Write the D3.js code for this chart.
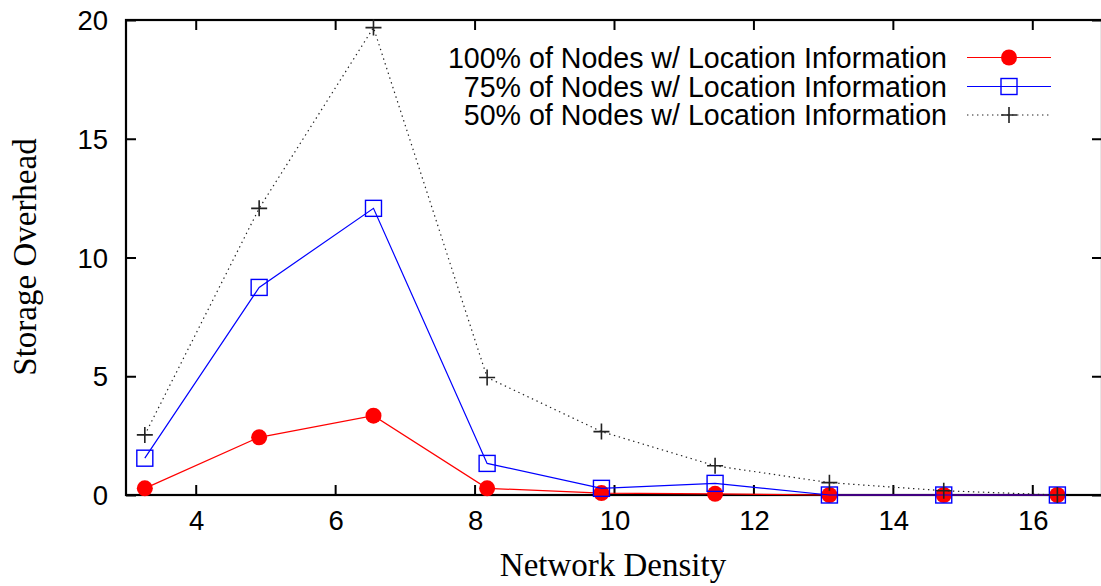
<!DOCTYPE html>
<html>
<head>
<meta charset="utf-8">
<script src="https://cdn.jsdelivr.net/npm/d3@7"></script>
<style>
  html, body { margin: 0; padding: 0; background: #fff; }
  svg { display: block; }
</style>
</head>
<body>
<svg id="chart" width="1101" height="586"></svg>
<script>
// Network density values on the x axis
const density = [3.27, 4.91, 6.55, 8.18, 9.82, 11.45, 13.09, 14.73, 16.36];

// Storage overhead for each share of nodes that know their location
const overhead100 = [0.28, 2.43, 3.34, 0.28, 0.08, 0.05, 0.0, 0.0, 0.0];
const overhead75  = [1.55, 8.74, 12.07, 1.33, 0.28, 0.49, 0.0, 0.0, 0.0];
const overhead50  = [2.53, 12.07, 19.68, 4.95, 2.67, 1.23, 0.52, 0.18, 0.0];

const seriesNames = [
  "100% of Nodes w/ Location Information",
  "75% of Nodes w/ Location Information",
  "50% of Nodes w/ Location Information"
];

const xTicks = [4, 6, 8, 10, 12, 14, 16];
const yTicks = [0, 5, 10, 15, 20];

const svg = d3.select("#chart");
const plotLeft = 126, plotRight = 1102, plotTop = 20, plotBottom = 495;

const x = d3.scaleLinear().domain([3, 17]).range([plotLeft, plotRight]);
const y = d3.scaleLinear().domain([0, 20]).range([plotBottom, plotTop]);

const sans = "'Liberation Sans', Arial, Helvetica, sans-serif";
const serif = "'Liberation Serif', 'Times New Roman', serif";

const series = [
  { name: seriesNames[0], values: overhead100, color: "#ff0000", marker: "circle", dash: null },
  { name: seriesNames[1], values: overhead75,  color: "#0000ff", marker: "square", dash: null },
  { name: seriesNames[2], values: overhead50,  color: "#222222", marker: "plus",   dash: "1.4,3.6" }
];

// Tick marks on all four sides, pointing inward
const tickLen = 10;
const axisG = svg.append("g");
const xAxisB = d3.axisBottom(x).tickValues(xTicks).tickSize(-tickLen).tickFormat("");
const xAxisT = d3.axisTop(x).tickValues(xTicks).tickSize(-tickLen).tickFormat("");
const yAxisL = d3.axisLeft(y).tickValues(yTicks).tickSize(-tickLen).tickFormat("");
const yAxisR = d3.axisRight(y).tickValues(yTicks).tickSize(-tickLen).tickFormat("");
[[xAxisB, `translate(0,${plotBottom})`], [xAxisT, `translate(0,${plotTop})`],
 [yAxisL, `translate(${plotLeft},0)`], [yAxisR, `translate(${plotRight},0)`]].forEach(([ax, tr]) => {
  const g = axisG.append("g").attr("transform", tr).call(ax);
  g.select(".domain").remove();
  g.selectAll(".tick line").attr("stroke", "#000").attr("stroke-width", 2);
});

// Tick labels
svg.append("g").selectAll("text").data(xTicks).join("text")
  .attr("x", d => x(d) + 1).attr("y", 530)
  .attr("text-anchor", "middle")
  .style("font-family", sans).style("font-size", "27.5px").attr("fill", "#000")
  .text(d => d);
svg.append("g").selectAll("text").data(yTicks).join("text")
  .attr("x", 108).attr("y", d => y(d) + 10)
  .attr("text-anchor", "end")
  .style("font-family", sans).style("font-size", "27.5px").attr("fill", "#000")
  .text(d => d);

// Plot border
svg.append("rect")
  .attr("x", plotLeft).attr("y", plotTop)
  .attr("width", plotRight - plotLeft).attr("height", plotBottom - plotTop)
  .attr("fill", "none").attr("stroke", "#000").attr("stroke-width", 2.2);

// Axis titles
svg.append("text")
  .attr("x", 613).attr("y", 576)
  .attr("text-anchor", "middle")
  .style("font-family", serif).style("font-size", "33px").attr("fill", "#000")
  .text("Network Density");
svg.append("text")
  .attr("transform", "translate(36,257) rotate(-90)")
  .attr("text-anchor", "middle")
  .style("font-family", serif).style("font-size", "33px").attr("fill", "#000")
  .text("Storage Overhead");

function drawMarker(g, type, cx, cy, color) {
  if (type === "circle") {
    g.append("circle").attr("cx", cx).attr("cy", cy).attr("r", 8).attr("fill", color);
  } else if (type === "square") {
    g.append("rect").attr("x", cx - 8).attr("y", cy - 8).attr("width", 16).attr("height", 16)
      .attr("fill", "none").attr("stroke", color).attr("stroke-width", 1.4);
  } else {
    g.append("path").attr("d", `M${cx - 8},${cy}H${cx + 8}M${cx},${cy - 8}V${cy + 8}`)
      .attr("stroke", color).attr("stroke-width", 1.6).attr("fill", "none");
  }
}

const line = d3.line().x(d => x(d[0])).y(d => y(d[1]));
const plotG = svg.append("g");

series.forEach(s => {
  const pts = density.map((d, i) => [d, s.values[i]]);
  const g = plotG.append("g");
  g.append("path").datum(pts).attr("d", line)
    .attr("fill", "none").attr("stroke", s.color).attr("stroke-width", 1.2)
    .attr("stroke-dasharray", s.dash);
  pts.forEach(p => drawMarker(g, s.marker, x(p[0]), y(p[1]), s.color));
});

// Legend
const legendRows = [57.5, 86.5, 115];
const legG = svg.append("g");
series.forEach((s, i) => {
  const ly = legendRows[i];
  legG.append("text")
    .attr("x", 947).attr("y", ly + 10)
    .attr("text-anchor", "end")
    .style("font-family", sans).style("font-size", "28.6px").attr("fill", "#000")
    .text(s.name);
  legG.append("line")
    .attr("x1", 967).attr("x2", 1051).attr("y1", ly).attr("y2", ly)
    .attr("stroke", s.color).attr("stroke-width", 1.2)
    .attr("stroke-dasharray", s.dash);
  drawMarker(legG, s.marker, 1009, ly, s.color);
});
</script>
</body>
</html>
